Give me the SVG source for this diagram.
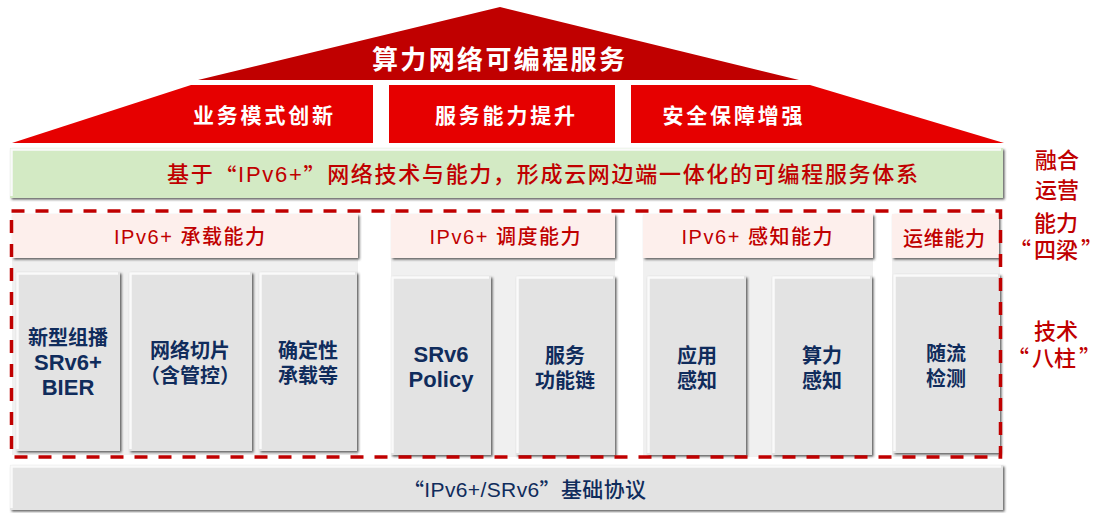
<svg xmlns="http://www.w3.org/2000/svg" width="1101" height="513" viewBox="0 0 1101 513">
<defs>
<style>
text{dominant-baseline:central;text-anchor:middle}
.cjk{font-family:"Noto Sans CJK SC","Liberation Sans",sans-serif}
.mix{font-family:"Liberation Sans","Noto Sans CJK SC",sans-serif}
.q{font-family:"Noto Sans CJK SC",sans-serif}
.wt{fill:#ffffff;font-weight:700}
.red{fill:#c00000}
.navy{fill:#102c5c;font-weight:700}
.navym{fill:#102c5c;font-weight:500}
.roof1{fill:#c00000}
.roof2{fill:#e60000}
.pillar{fill:#e3e3e3;filter:url(#sh)}
.hl{fill:none;stroke:#fafafa;stroke-width:2.5}
.hdr{fill:#fdefec;filter:url(#sh)}
.panel{fill:#f0f0f0}
.ht{fill:#c00000;font-size:20px;font-weight:500}
.pt{font-size:20px}
.lt{font-size:22px}
.side{fill:#c00000;font-size:22px;font-weight:500}
</style>
<filter id="sh" x="-5%" y="-5%" width="112%" height="115%">
<feDropShadow dx="1.6" dy="1.6" stdDeviation="0.9" flood-color="#3a3a3a" flood-opacity="0.8"/>
</filter>
</defs>
<rect width="1101" height="513" fill="#ffffff"/>

<g id="roof">
<polygon class="roof1" points="198,80 500,7 799,80"/>
<text x="498.5" y="57.5" class="cjk wt" font-size="26" textLength="253">算力网络可编程服务</text>
</g>

<g id="business-innovation">
<polygon class="roof2" points="12,143 191,85 373,85 373,143"/>
<text x="263" y="114" class="cjk wt" font-size="21" textLength="140">业务模式创新</text>
</g>
<g id="service-capability">
<rect class="roof2" x="389" y="85" width="226" height="58"/>
<text x="505" y="114" class="cjk wt" font-size="21" textLength="140">服务能力提升</text>
</g>
<g id="security">
<polygon class="roof2" points="631,85 810,85 1004,143 631,143"/>
<text x="732.5" y="114" class="cjk wt" font-size="21" textLength="140">安全保障增强</text>
</g>

<g id="integration-bar">
<rect x="10" y="148" width="993" height="50" fill="#d3eac4" filter="url(#sh)"/>
<path class="hl" d="M11.5,196 V149.5 H1001"/>
<text x="542.5" y="174" class="mix red" font-size="22" font-weight="500" textLength="751">基于<tspan class="q">“</tspan>IPv6+<tspan class="q">”</tspan>网络技术与能力，形成云网边端一体化的可编程服务体系</text>
</g>

<g id="carrying">
<rect class="panel" x="12" y="258" width="346" height="197"/>
<rect class="hdr" x="12" y="214" width="346" height="44"/>
<text x="189.5" y="237" class="mix ht" textLength="151">IPv6+ 承载能力</text>
</g>
<g id="scheduling">
<rect class="panel" x="391" y="258" width="224" height="199"/>
<rect class="hdr" x="391" y="214" width="224" height="44"/>
<text x="505" y="237" class="mix ht" textLength="151">IPv6+ 调度能力</text>
</g>
<g id="sensing">
<rect class="panel" x="643" y="258" width="230" height="199"/>
<rect class="hdr" x="643" y="214" width="230" height="44"/>
<text x="757" y="237" class="mix ht" textLength="151">IPv6+ 感知能力</text>
</g>
<g id="om">
<rect class="panel" x="892" y="258" width="108" height="199"/>
<rect class="hdr" x="892" y="214" width="107" height="44"/>
<text x="944" y="237" class="cjk ht" textLength="82">运维能力</text>
</g>

<g id="p-multicast">
<rect class="pillar" x="16" y="272" width="104" height="179"/>
<path class="hl" d="M17.5,449 V273.5 H118"/>
<text class="mix navy lt"><tspan x="68" y="336" class="cjk pt">新型组播</tspan><tspan x="68" y="362">SRv6+</tspan><tspan x="68" y="387">BIER</tspan></text>
</g>
<g id="p-slicing">
<rect class="pillar" x="129" y="272" width="123" height="179"/>
<path class="hl" d="M130.5,449 V273.5 H250"/>
<text class="cjk navy pt"><tspan x="190" y="349">网络切片</tspan><tspan x="190" y="374">（含管控）</tspan></text>
</g>
<g id="p-deterministic">
<rect class="pillar" x="259" y="272" width="98" height="179"/>
<path class="hl" d="M260.5,449 V273.5 H355"/>
<text class="cjk navy pt"><tspan x="308" y="349">确定性</tspan><tspan x="308" y="374">承载等</tspan></text>
</g>
<g id="p-policy">
<rect class="pillar" x="391" y="276" width="100" height="179"/>
<path class="hl" d="M392.5,453 V277.5 H489"/>
<text class="mix navy lt"><tspan x="441" y="354">SRv6</tspan><tspan x="441" y="379">Policy</tspan></text>
</g>
<g id="p-sfc">
<rect class="pillar" x="516" y="276" width="99" height="179"/>
<path class="hl" d="M517.5,453 V277.5 H613"/>
<text class="cjk navy pt"><tspan x="565" y="354">服务</tspan><tspan x="565" y="379">功能链</tspan></text>
</g>
<g id="p-app">
<rect class="pillar" x="647" y="276" width="99" height="179"/>
<path class="hl" d="M648.5,453 V277.5 H744"/>
<text class="cjk navy pt"><tspan x="697" y="354">应用</tspan><tspan x="697" y="379">感知</tspan></text>
</g>
<g id="p-compute">
<rect class="pillar" x="772" y="276" width="100" height="179"/>
<path class="hl" d="M773.5,453 V277.5 H870"/>
<text class="cjk navy pt"><tspan x="822" y="354">算力</tspan><tspan x="822" y="379">感知</tspan></text>
</g>
<g id="p-ifit">
<rect class="pillar" x="893" y="274" width="107" height="179"/>
<path class="hl" d="M894.5,451 V275.5 H998"/>
<text class="cjk navy pt"><tspan x="946" y="352">随流</tspan><tspan x="946" y="377">检测</tspan></text>
</g>

<g id="frame">
<rect x="11.5" y="211" width="989" height="246" fill="none" stroke="#c00000" stroke-width="3.5" stroke-dasharray="13 11"/>
</g>

<g id="base-protocol">
<rect class="pillar" x="10" y="465" width="993" height="45"/>
<path class="hl" d="M11.5,508 V466.5 H1001"/>
<text x="524.5" y="489" class="mix navym" font-size="21" textLength="243"><tspan class="q">“</tspan>IPv6+/SRv6<tspan class="q">”</tspan>基础协议</text>
</g>

<g id="side-labels">
<text class="cjk side"><tspan x="1057" y="158">融合</tspan><tspan x="1057" y="188">运营</tspan></text>
<text class="cjk side"><tspan x="1056" y="221">能力</tspan><tspan x="1056" y="248">“<tspan dx="3">四梁</tspan><tspan dx="3">”</tspan></tspan></text>
<text class="cjk side"><tspan x="1056" y="329">技术</tspan><tspan x="1054" y="356">“<tspan dx="3">八柱</tspan><tspan dx="3">”</tspan></tspan></text>
</g>
</svg>
